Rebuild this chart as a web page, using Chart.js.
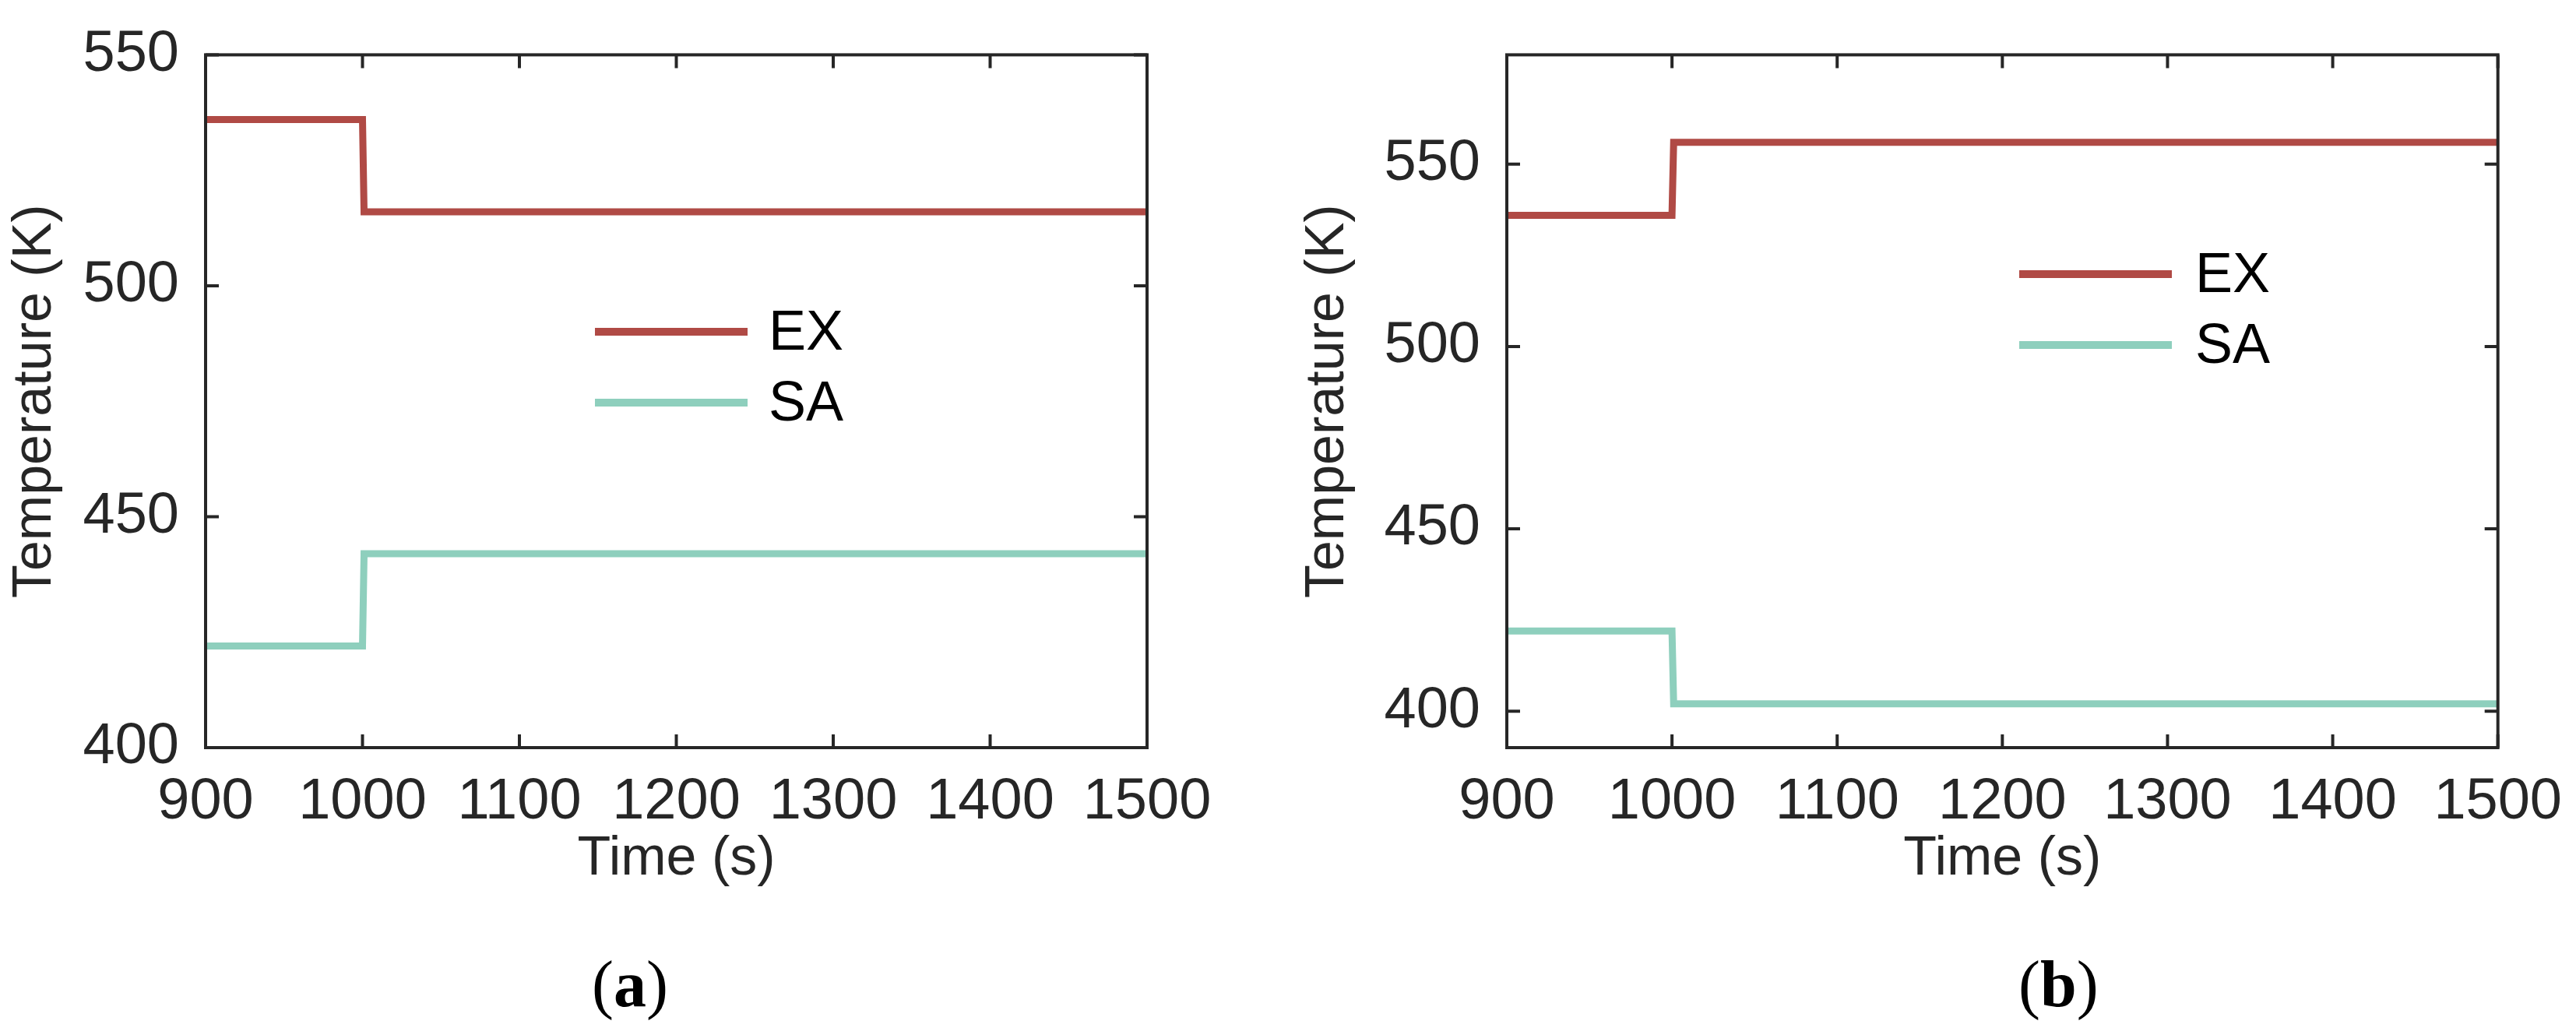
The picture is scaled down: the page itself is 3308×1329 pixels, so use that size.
<!DOCTYPE html>
<html><head><meta charset="utf-8">
<script src="https://cdn.jsdelivr.net/npm/chart.js@4"></script>
<style>
body{margin:0;background:#fff;width:3308px;height:1329px;position:relative;overflow:hidden;font-family:"Liberation Sans",Arial,sans-serif}
.box{position:absolute;top:0;height:1150px}
.cap{position:absolute;top:1215px;font-family:"Liberation Serif",serif;font-size:84px;color:#000}
</style></head><body>
<div class="box" style="left:0;width:1600px"><canvas id="c1"></canvas></div>
<div class="box" style="left:1660px;width:1648px"><canvas id="c2"></canvas></div>
<div class="cap" style="left:760px">(<b>a</b>)</div>
<div class="cap" style="left:2592px">(<b>b</b>)</div>
<script>
const times=[900,1000,1001,1500];
const exA=[536,536,516,516];
const saA=[422,422,442,442];
const exB=[536,536,556,556];
const saB=[422,422,402,402];
const xTicks=[900,1000,1100,1200,1300,1400,1500];
const yTicksA=[400,450,500,550];
const yTicksB=[400,450,500,550];
const labels=['EX','SA'];
const RED='#b04a45',TEAL='#8ecfbd',AX='#262626';

function pts(ys){return times.map((t,i)=>({x:t,y:ys[i]}));}
function make(id,ex,sa,ymin,ymax,yt,ywidth,rpad,leg){
  const boxPlugin={id:'box',afterDraw(ch){
    const c=ch.ctx,a=ch.chartArea;c.save();c.strokeStyle=AX;c.lineWidth=4;
    c.strokeRect(a.left,a.top,a.right-a.left,a.bottom-a.top);
    const L=17;
    xTicks.forEach(v=>{const x=ch.scales.x.getPixelForValue(v);
      c.beginPath();c.moveTo(x,a.bottom);c.lineTo(x,a.bottom-L);c.moveTo(x,a.top);c.lineTo(x,a.top+L);c.stroke();});
    yt.forEach(v=>{const y=ch.scales.y.getPixelForValue(v);
      c.beginPath();c.moveTo(a.left,y);c.lineTo(a.left+L,y);c.moveTo(a.right,y);c.lineTo(a.right-L,y);c.stroke();});
    c.font='72px "Liberation Sans"';c.textBaseline='middle';c.fillStyle='#000';
    [RED,TEAL].forEach((col,i)=>{const y=leg.y[i];c.strokeStyle=col;c.lineWidth=10;
      c.beginPath();c.moveTo(leg.x0,y);c.lineTo(leg.x1,y);c.stroke();c.fillText(labels[i],leg.tx,y+3);});
    c.restore();}};
  new Chart(document.getElementById(id),{type:'line',
    data:{datasets:[
      {data:pts(ex),borderColor:RED,borderWidth:9,pointRadius:0,tension:0},
      {data:pts(sa),borderColor:TEAL,borderWidth:9,pointRadius:0,tension:0}]},
    options:{responsive:true,maintainAspectRatio:false,animation:false,
      layout:{padding:{top:42,right:rpad,left:0,bottom:0}},
      plugins:{legend:{display:false},tooltip:{enabled:false}},
      scales:{
        x:{type:'linear',min:900,max:1500,afterBuildTicks(s){s.ticks=xTicks.map(v=>({value:v}));},
          afterFit(s){s.height=190;},
          grid:{display:false},border:{display:false},
          ticks:{color:AX,font:{size:74,family:'Liberation Sans'},padding:18,maxRotation:0,callback:v=>String(v)},
          title:{display:true,text:'Time (s)',color:AX,font:{size:70,family:'Liberation Sans'},padding:{top:4}}},
        y:{type:'linear',min:ymin,max:ymax,afterBuildTicks(s){s.ticks=yt.map(v=>({value:v}));},
          afterFit(s){s.width=ywidth;},
          grid:{display:false},border:{display:false},
          ticks:{color:AX,font:{size:74,family:'Liberation Sans'},padding:26,callback:v=>String(v)},
          title:{display:true,text:'Temperature (K)',color:AX,font:{size:70,family:'Liberation Sans'},padding:{bottom:4}}}}},
    plugins:[boxPlugin]});
}
make('c1',exA,saA,400,550,yTicksA,264,127,{x0:764,x1:960,tx:987,y:[426,517]});
make('c2',exB,saB,390,580,yTicksB,275,95,{x0:933,x1:1129,tx:1159,y:[352,443]});
</script></body></html>
